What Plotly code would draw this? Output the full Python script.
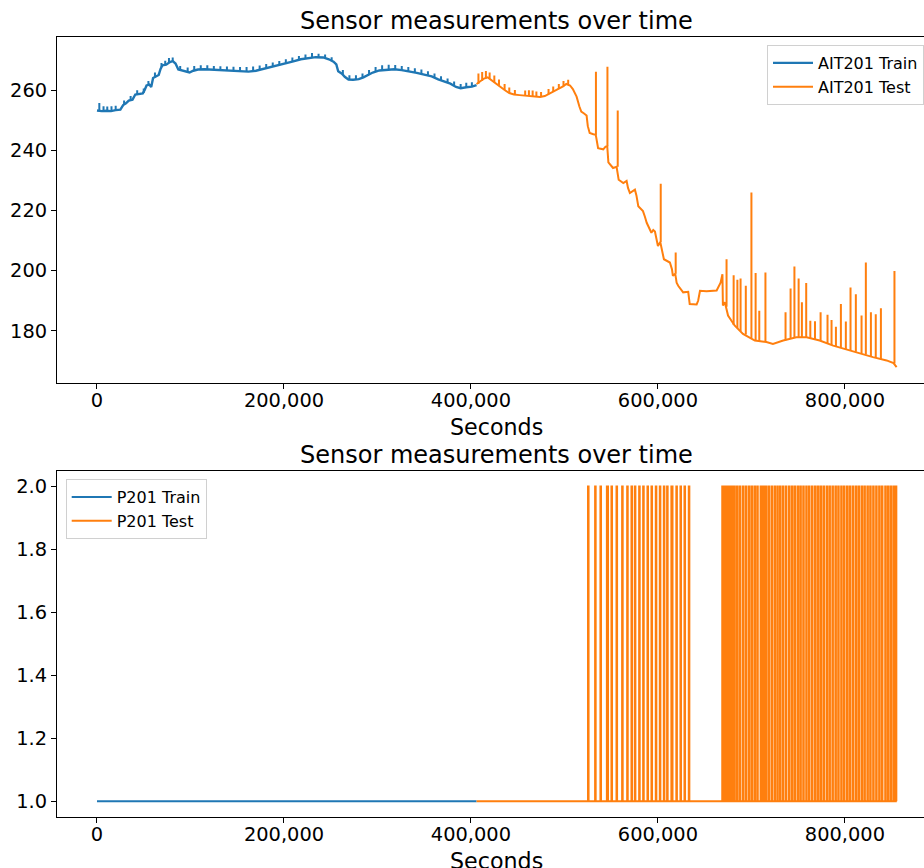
import plotly.graph_objects as go

# ---------------- data (time in thousands of seconds) ----------------
ait_train_t = [0, 5, 10, 15, 20, 25, 28, 31, 34, 38, 41, 45, 49, 51, 53, 56, 58, 60, 63, 66,
               68, 70, 74, 78, 81, 84, 87, 91, 95, 99, 103, 108, 115, 122, 130, 138, 146, 154,
               162, 170, 178, 186, 194, 202, 210, 218, 226, 234, 242, 248, 253, 256, 258, 262,
               265, 269, 274, 280, 285, 290, 295, 302, 310, 318, 326, 334, 342, 350, 358, 365,
               372, 378, 384, 389, 395, 401, 406]
ait_train_v = [253.2, 253.0, 253.1, 253.0, 253.3, 253.5, 255.0, 255.6, 256.5, 256.8, 258.5, 258.8,
               258.9, 260.0, 261.5, 261.8, 261.0, 264.0, 264.4, 265.0, 267.0, 268.2, 268.4, 269.3,
               269.6, 268.8, 266.8, 266.4, 266.2, 265.8, 266.4, 266.8, 266.9, 266.8, 266.6, 266.5,
               266.3, 266.1, 266.1, 266.4, 267.0, 267.6, 268.1, 268.8, 269.5, 270.2, 270.6, 270.9,
               270.8, 270.2, 269.4, 268.5, 266.2, 265.4, 264.4, 263.5, 263.4, 263.6, 264.2, 264.9,
               265.8, 266.5, 266.8, 266.9, 266.6, 266.2, 265.7, 265.1, 264.5, 263.5, 262.8, 262.1,
               261.0, 260.6, 260.9, 261.1, 261.6]

ait_test_t = [406, 410, 414, 418, 422, 426, 431, 436, 441, 446, 452, 458, 464, 470, 474, 479, 484,
              490, 495, 499, 502, 506, 509, 513, 516, 518, 521, 523.7, 525, 527, 531, 533.5, 536,
              541.5, 544, 545.8, 547, 552, 555.8, 558, 563, 566.5, 568, 570, 575.4, 577, 579, 584,
              586, 588, 593, 595, 596.8, 600, 602.5, 604.5, 606.4, 612.8, 615, 616, 618.5, 620,
              621.7, 627, 632.4, 634, 641.4, 643, 645, 652, 662.8, 667, 669, 669.5, 671.6, 675,
              682, 691, 703.7, 716, 723, 734, 748, 759, 773, 787.5, 801.8, 816, 830, 844.6, 852,
              855.3]
ait_test_v = [262.0, 263.0, 263.8, 264.2, 263.2, 262.4, 261.2, 260.0, 259.0, 258.5, 258.3, 258.2,
              258.0, 257.8, 257.7, 258.0, 258.8, 259.7, 260.5, 261.3, 262.0, 261.5, 260.3, 257.8,
              254.5, 252.8, 252.2, 251.5, 248.0, 245.7, 245.3, 245.1, 240.7, 240.3, 241.2, 241.3,
              236.0, 234.1, 234.5, 230.2, 229.1, 229.8, 227.5, 225.8, 226.9, 225.0, 221.4, 219.8,
              218.0, 215.9, 212.6, 213.5, 213.0, 208.2, 209.5, 206.0, 203.8, 202.7, 200.5, 198.3,
              199.0, 196.0, 195.0, 192.8, 193.0, 188.9, 188.8, 190.0, 193.3, 193.2, 193.4, 196.0,
              198.8, 188.4, 189.5, 185.1, 181.8, 179.0, 176.8, 176.3, 175.7, 176.8, 177.9, 177.9,
              176.8, 175.1, 173.8, 172.7, 171.3, 170.2, 169.3, 168.0]

# short spikes: time, foot value, peak value
train_spk_t = [2.5, 7, 11, 15.5, 20, 29, 36, 43, 50, 55, 62, 69, 73, 77, 81, 89, 97, 104, 111, 118,
               125, 132, 139, 146, 153, 160, 167, 174, 181, 188, 195, 202, 209, 216, 223, 230, 237,
               244, 251, 263, 270, 277, 284, 291, 298, 305, 312, 319, 326, 333, 340, 347, 354, 361,
               368, 375, 382, 389, 395, 401]
train_spk_lo = [253.1, 253.0, 253.1, 253.0, 253.3, 255.2, 256.6, 258.6, 259.0, 261.7, 264.2, 267.6,
                268.3, 269.1, 269.6, 266.6, 266.0, 266.5, 266.8, 266.9, 266.7, 266.6, 266.5, 266.3,
                266.1, 266.1, 266.3, 266.7, 267.2, 267.7, 268.2, 268.8, 269.4, 270.0, 270.5, 270.8,
                270.9, 270.6, 269.8, 265.2, 263.5, 263.5, 264.1, 265.0, 266.1, 266.6, 266.8, 266.9,
                266.6, 266.2, 265.8, 265.3, 264.8, 264.1, 263.2, 262.4, 261.4, 260.6, 260.9, 261.1]
train_spk_hi = [255.7, 254.6, 254.5, 254.6, 254.8, 256.5, 258.0, 259.9, 260.5, 263.0, 265.8, 269.0,
                269.7, 270.6, 270.8, 268.0, 267.5, 268.0, 268.2, 268.2, 268.0, 267.9, 267.8, 267.7,
                267.6, 267.6, 267.8, 268.1, 268.6, 269.1, 269.6, 270.2, 270.8, 271.3, 271.8, 272.3,
                272.0, 271.8, 270.9, 266.6, 264.9, 264.9, 265.5, 266.6, 267.6, 268.2, 268.4, 268.3,
                268.0, 267.6, 267.2, 266.8, 266.2, 265.5, 264.6, 263.8, 262.8, 262.0, 262.4, 262.6]

test_spk_t = [408, 412, 416, 420, 425, 430, 436, 441, 447, 458, 462, 466, 470, 475, 483, 488, 494,
              499, 504, 533.7, 546.0, 557.0, 603.0, 619.0, 673.4, 681.0, 685.0, 688.4, 694.0,
              700.0, 704.5, 708.4, 715.0, 736.5, 741.9, 746.0, 750.5, 754.0, 758.6, 763.0, 768.0,
              774.0, 781.4, 785.7, 790.4, 795.7, 801.0, 806.0, 811.7, 817.8, 822.4, 827.8, 833.0,
              838.5, 853.0]
test_spk_lo = [262.0, 263.0, 263.8, 263.8, 262.6, 261.4, 260.0, 259.0, 258.5, 258.2, 258.1, 258.0,
               257.8, 257.7, 258.6, 259.4, 260.3, 261.3, 261.8, 245.1, 241.3, 234.5, 209.5, 199.0,
               188.0, 182.0, 181.0, 180.0, 178.8, 177.5, 176.8, 176.5, 176.3, 176.9, 177.3, 177.7,
               178.0, 178.0, 177.9, 177.6, 177.2, 176.8, 176.0, 175.3, 174.9, 174.5, 173.9, 173.5,
               173.1, 172.6, 172.2, 171.6, 171.0, 170.6, 169.2]
test_spk_hi = [265.5, 266.0, 266.3, 265.8, 264.8, 263.5, 262.0, 260.8, 260.0, 259.8, 259.9, 259.8,
               259.5, 259.3, 260.3, 261.2, 262.0, 263.0, 263.4, 266.1, 267.7, 253.2, 228.9, 206.0,
               203.8, 198.5, 197.0, 197.4, 195.0, 226.0, 199.2, 186.7, 199.4, 186.2, 194.1, 201.4,
               197.4, 189.5, 195.9, 183.4, 183.2, 186.2, 185.4, 183.6, 181.4, 188.9, 183.1, 194.4,
               192.2, 185.1, 202.7, 186.2, 185.5, 187.5, 199.9]

p201_train_t = [0, 406]
p201_train_v = [1.0, 1.0]
p201_test_span = [406, 855.3]
# pulses of P201 test going to 2.0 (start, end), thousands of seconds
p201_on = [525.2, 532.8, 538.5, 545.4, 550.3, 555.7, 561.7, 567.1, 571.7, 575.3, 579.9, 584.2,
           588.8, 593.1, 597.7, 602.0, 606.3, 609.8, 614.4, 619.7, 624.1, 628.4, 633.0,
           668.8, 670.8, 672.8, 674.8, 676.8, 678.8, 681.5, 684.6, 687.6, 690.9, 694.0, 697.2,
           700.2, 703.3, 706.2, 709.8, 712.6, 715.0, 718.2, 721.4, 724.6, 727.6, 730.5, 733.6,
           736.8, 740.1, 743.2, 746.2, 749.4, 752.3, 755.4, 758.6, 761.6, 764.8, 768.0, 771.0,
           774.0, 777.1, 780.4, 783.4, 786.6, 789.8, 792.8, 796.0, 799.0, 802.2, 805.2, 808.4,
           811.6, 814.6, 817.8, 820.8, 824.0, 827.0, 830.2, 833.4, 836.6, 839.6, 843.1, 846.0,
           849.0, 852.0, 854.4]
p201_off = [525.8, 533.4, 539.1, 546.6, 550.9, 556.3, 562.3, 567.7, 572.3, 575.9, 580.5, 584.8,
            589.4, 593.7, 598.3, 602.6, 606.9, 610.4, 615.6, 620.3, 624.7, 629.0, 633.6,
            669.4, 671.4, 673.4, 675.4, 677.4, 679.6, 682.3, 685.2, 688.2, 691.5, 694.6, 697.8,
            700.8, 703.9, 706.8, 710.6, 713.2, 715.8, 718.8, 722.0, 725.2, 728.2, 731.1, 734.2,
            737.4, 740.7, 743.8, 746.8, 750.0, 752.9, 756.0, 759.2, 762.2, 765.4, 768.6, 771.6,
            774.6, 777.7, 781.0, 784.0, 787.2, 790.4, 793.4, 796.6, 799.6, 802.8, 805.8, 809.0,
            812.2, 815.2, 818.4, 821.4, 824.6, 827.6, 830.8, 834.0, 837.2, 840.2, 843.7, 846.6,
            849.6, 852.6, 855.0]

x_ticks = [0, 200000, 400000, 600000, 800000]
y1_ticks = [180, 200, 220, 240, 260]
y2_ticks = [1.0, 1.2, 1.4, 1.6, 1.8, 2.0]

# ---------------- figure ----------------
BLUE = '#1f77b4'
ORANGE = '#ff7f0e'
FONT = 'DejaVu Sans'
LW = 2

def sec(lst):
    return [v * 1000 for v in lst]

def spike_xy(ts, lo, hi):
    xs, ys = [], []
    for t, a, b in zip(ts, lo, hi):
        xs += [t * 1000, t * 1000, None]
        ys += [a, b, None]
    return xs, ys

fig = go.Figure()
fig.add_trace(go.Scatter(x=sec(ait_train_t), y=ait_train_v, mode='lines', name='AIT201 Train',
                         line=dict(color=BLUE, width=2.4), legend='legend', xaxis='x', yaxis='y'))
sx, sy = spike_xy(train_spk_t, train_spk_lo, train_spk_hi)
fig.add_trace(go.Scatter(x=sx, y=sy, mode='lines', showlegend=False,
                         line=dict(color=BLUE, width=LW), xaxis='x', yaxis='y'))
fig.add_trace(go.Scatter(x=sec(ait_test_t), y=ait_test_v, mode='lines', name='AIT201 Test',
                         line=dict(color=ORANGE, width=LW), legend='legend', xaxis='x', yaxis='y'))
sx, sy = spike_xy(test_spk_t, test_spk_lo, test_spk_hi)
fig.add_trace(go.Scatter(x=sx, y=sy, mode='lines', showlegend=False,
                         line=dict(color=ORANGE, width=LW), xaxis='x', yaxis='y'))

px_t = [p201_test_span[0]]
px_v = [1.0]
for on, off in zip(p201_on, p201_off):
    px_t += [on, on, off, off]
    px_v += [1.0, 2.0, 2.0, 1.0]
px_t.append(p201_test_span[1])
px_v.append(1.0)

fig.add_trace(go.Scatter(x=sec(p201_train_t), y=p201_train_v, mode='lines', name='P201 Train',
                         line=dict(color=BLUE, width=LW), legend='legend2', xaxis='x2', yaxis='y2'))
fig.add_trace(go.Scatter(x=sec(px_t), y=px_v, mode='lines', name='P201 Test',
                         line=dict(color=ORANGE, width=LW), legend='legend2', xaxis='x2', yaxis='y2'))

W, H = 924, 868
ML, MR, MT, MB = 57, 0, 37, 51
PH = H - MT - MB
PW = W - ML - MR

def py(p):
    return (H - MB - p) / PH

def pxf(p):
    return (p - ML) / PW

xrange = [-42770, 884600]
axis_common = dict(showline=True, linecolor='black', linewidth=1, ticks='outside', ticklen=5,
                   tickwidth=1, tickcolor='black', showgrid=False, zeroline=False,
                   tickfont=dict(family=FONT, size=19.4, color='black'))

fig.update_layout(
    width=W, height=H,
    margin=dict(l=ML, r=MR, t=MT, b=MB, autoexpand=False),
    paper_bgcolor='white', plot_bgcolor='white',
    font=dict(family=FONT, color='black'),
    xaxis=dict(domain=[0, 1], range=xrange, tickvals=x_ticks, tickformat=',', mirror=True,
               anchor='y', ticklabelstandoff=-5, **axis_common),
    yaxis=dict(domain=[py(382.7), 1], range=[162.8, 277.6], tickvals=y1_ticks, anchor='x',
               **axis_common),
    xaxis2=dict(domain=[0, 1], range=xrange, tickvals=x_ticks, tickformat=',', mirror=True,
                anchor='y2', ticklabelstandoff=-5, **axis_common),
    yaxis2=dict(domain=[0, py(470.7)], range=[0.95, 2.05], tickvals=y2_ticks, tickformat='.1f',
                anchor='x2', **axis_common),
    legend=dict(x=pxf(767), y=py(45), xanchor='left', yanchor='top', bgcolor='rgba(255,255,255,0.8)',
                bordercolor='#d0d0d0', borderwidth=1, font=dict(family=FONT, size=16),
                itemwidth=40, tracegroupgap=0),
    legend2=dict(x=pxf(65.7), y=py(479), xanchor='left', yanchor='top', bgcolor='rgba(255,255,255,0.8)',
                 bordercolor='#d0d0d0', borderwidth=1, font=dict(family=FONT, size=16),
                 itemwidth=40, tracegroupgap=0),
    showlegend=True,
)

title_x = pxf(496.8)
ann = []
for top_px, text, size in [(5.1, 'Sensor measurements over time', 24), (439.1, 'Sensor measurements over time', 24),
                           (412.4, 'Seconds', 22.2), (846.4, 'Seconds', 22.2)]:
    ann.append(dict(x=title_x, y=py(top_px), xref='paper', yref='paper', text=text, showarrow=False,
                    xanchor='center', yanchor='top', font=dict(family=FONT, size=size, color='black')))
fig.update_layout(annotations=ann)

fig.write_html('out.html')
